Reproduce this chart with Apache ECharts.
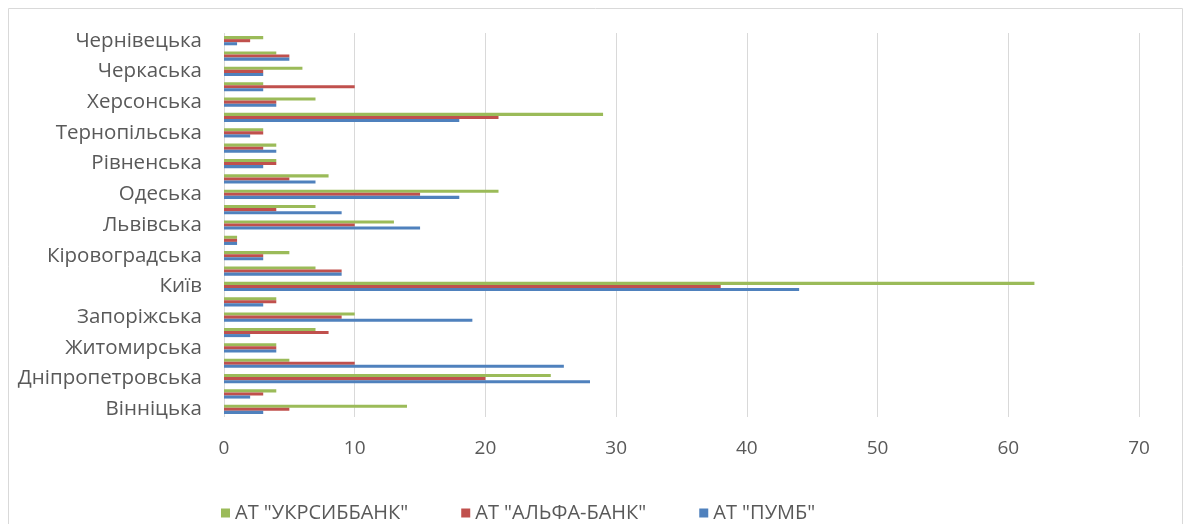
<!DOCTYPE html>
<html><head><meta charset="utf-8">
<script src="https://cdn.jsdelivr.net/npm/echarts@6/dist/echarts.min.js"></script>
<style>html,body{margin:0;padding:0;background:#fff}#c{width:1190px;height:524px}</style>
</head><body><div id="c"></div>
<script>
const categories = ['Вінніцька','Волинська','Дніпропетровська','Донецька','Житомирська','Закарпатська','Запоріжська','Івано-Франківська','Київ','Київська','Кіровоградська','Луганська','Львівська','Миколаївська','Одеська','Полтавська','Рівненська','Сумська','Тернопільська','Харківська','Херсонська','Хмельницька','Черкаська','Чернігівська','Чернівецька'];
const pumb    = [3,2,28,26,4,2,19,3,44,9,3,1,15,9,18,7,3,4,2,18,4,3,3,5,1];
const alfa    = [5,3,20,10,4,8,9,4,38,9,3,1,10,4,15,5,4,3,3,21,4,10,3,5,2];
const ukrsib  = [14,4,25,5,4,7,10,4,62,7,5,1,13,7,21,8,4,4,3,29,7,3,6,4,3];
const xTicks = [0,10,20,30,40,50,60,70];
const names = ['АТ "УКРСИББАНК"','АТ "АЛЬФА-БАНК"','АТ "ПУМБ"'];
const colors = ['#9BBB59','#C0504D','#4F81BD'];
const font = '"Open Sans", sans-serif';
const chart = echarts.init(document.getElementById('c'));
const vals = [ukrsib, alfa, pumb];
chart.setOption({
  animation:false,
  graphic:[{type:'rect',shape:{x:8.5,y:8.5,width:1174,height:520},style:{fill:'none',stroke:'#D9D9D9',lineWidth:1}}],
  grid:{left:224,right:51,top:33,bottom:107},
  legend:{data:names,left:216,top:498,itemWidth:9,itemHeight:9,itemGap:53,icon:'rect',
    textStyle:{fontFamily:font,fontSize:20,color:'#595959'}},
  xAxis:{type:'value',min:xTicks[0],max:xTicks[xTicks.length-1],interval:10,
    axisLine:{show:false},axisTick:{show:false},
    splitLine:{lineStyle:{color:'#D9D9D9',width:1}},
    axisLabel:{margin:22,fontFamily:font,fontSize:19,color:'#595959'}},
  yAxis:{type:'category',data:categories,
    axisLine:{show:false},axisTick:{show:false},
    axisLabel:{interval:1,margin:22,fontFamily:font,fontSize:20.5,color:'#595959'}},
  series:vals.map((v,i)=>({name:names[i],type:'bar',data:v,itemStyle:{color:colors[i]},barGap:'0%',barCategoryGap:'40%'}))
});
</script></body></html>
